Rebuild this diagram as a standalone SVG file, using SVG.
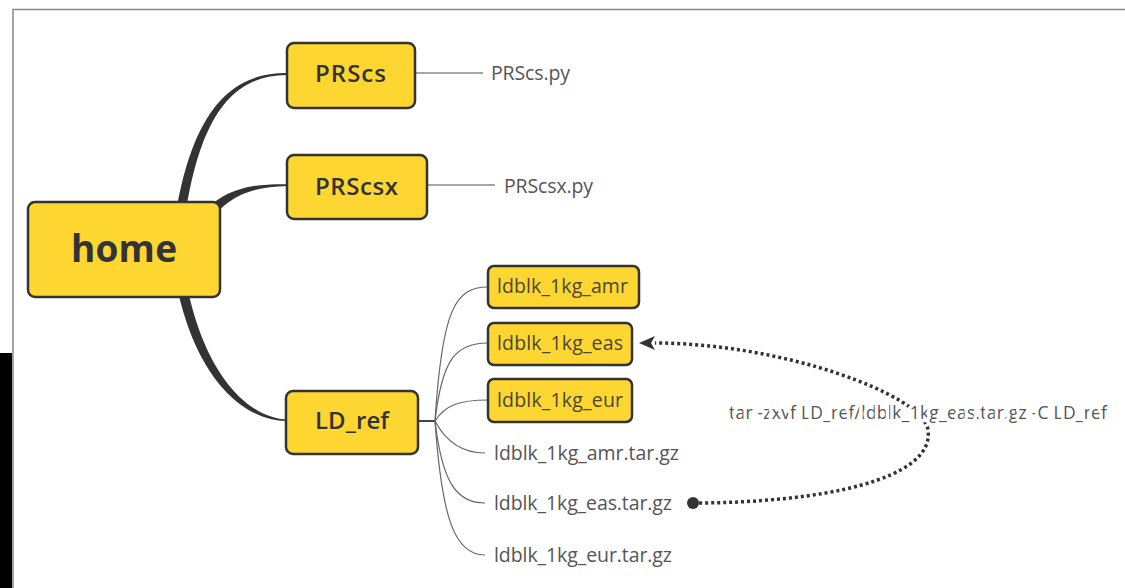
<svg xmlns="http://www.w3.org/2000/svg" width="1125" height="588" viewBox="0 0 1125 588">
<style>
.box{fill:#FDD631;stroke:#333;stroke-width:2.5}
.branch{fill:#333;stroke:none}
.thin{fill:none;stroke:#666;stroke-width:1.2}
.leafline{fill:none;stroke:#888;stroke-width:1.5}
.t{font-family:"Open Sans","Liberation Sans",sans-serif;fill:#333}
.main{font-size:37px;font-weight:700;text-anchor:middle}
.sub{font-size:24px;font-weight:600;text-anchor:middle}
.child{font-size:19.5px;font-weight:400;fill:#4a4734}
.leaf{font-size:19.5px;font-weight:400;fill:#555}
.lbl{font-size:17.5px;font-weight:400;fill:#555;paint-order:stroke;stroke:#fff;stroke-width:7px;stroke-linejoin:round}
.dotted{fill:none;stroke:#333;stroke-width:3.5;stroke-dasharray:3 3}
</style>
<defs>
<marker id="arr" markerUnits="userSpaceOnUse" viewBox="0 -10 20 20" markerWidth="20" markerHeight="20" refX="0" refY="0" orient="auto"><path d="M0,-7 L16,0 L0,7 L4,0 Z" fill="#333"/></marker>
<marker id="dot" markerUnits="userSpaceOnUse" viewBox="-7 -7 14 14" markerWidth="14" markerHeight="14" refX="0" refY="0"><circle r="6" fill="#333"/></marker>
</defs>
<rect x="0" y="0" width="1125" height="588" fill="#fff"/>
<rect x="0" y="353" width="12" height="235" fill="#000"/>
<path d="M13,588 L13,9.5 L1125,9.5" fill="none" stroke="#888" stroke-width="1.5"/>

<g id="connectors">
<path class="branch" d="M171,250 C185.5,113 229,72.5 287,73 L287,75 C231,75.5 194.5,117 181,250 Z"/>
<path class="branch" d="M191,233 C211,191 244,183.5 287,184.2 L287,186 C246,187 219,199 200,239 Z"/>
<path class="branch" d="M171,250 C187,383 249,422 287,421 L287,419.5 C251,418.5 197,377 181,250 Z"/>
<line class="leafline" x1="415" y1="73" x2="483" y2="73"/>
<line class="leafline" x1="427" y1="185" x2="495" y2="185"/>
<line x1="418" y1="421" x2="436" y2="421" stroke="#444" stroke-width="2"/>
<path class="thin" d="M435,421 C442,310 455,287 488,287"/>
<path class="thin" d="M435,421 C442,360 455,343 488,343"/>
<path class="thin" d="M435,421 C445,405 460,400 488,400"/>
<path class="thin" d="M435,421 C445,440 460,453 485,453"/>
<path class="thin" d="M435,421 C442,480 455,503 485,503"/>
<path class="thin" d="M435,421 C442,520 455,555 485,555"/>
<path class="dotted" d="M693,503 C820,503 935,480 928,430 C923,394 780,343 655,343" marker-start="url(#dot)" marker-end="url(#arr)"/>
<text class="t lbl" x="729" y="419" textLength="378">tar -zxvf LD_ref/ldblk_1kg_eas.tar.gz -C LD_ref</text>
</g>

<g id="home">
<rect class="box" x="28" y="202" width="192" height="95" rx="7"/>
<text class="t main" x="124" y="262" textLength="106">home</text>
</g>
<g id="PRScs">
<rect class="box" x="287" y="43" width="128" height="65" rx="7"/>
<text class="t sub" x="350.5" y="82" textLength="71">PRScs</text>
</g>
<g id="PRScs_py">
<text class="t leaf" x="491" y="80" textLength="79">PRScs.py</text>
</g>
<g id="PRScsx">
<rect class="box" x="287" y="155" width="140" height="64" rx="7"/>
<text class="t sub" x="356.5" y="195" textLength="83">PRScsx</text>
</g>
<g id="PRScsx_py">
<text class="t leaf" x="504" y="193" textLength="89">PRScsx.py</text>
</g>
<g id="LD_ref">
<rect class="box" x="286" y="391" width="132" height="63" rx="7"/>
<text class="t sub" x="352" y="429" textLength="74">LD_ref</text>
</g>
<g id="ldblk_1kg_amr">
<rect class="box" x="488" y="266" width="151" height="42" rx="6"/>
<text class="t child" x="497" y="293" textLength="131">ldblk_1kg_amr</text>
</g>
<g id="ldblk_1kg_eas">
<rect class="box" x="488" y="323" width="144" height="42" rx="6"/>
<text class="t child" x="497" y="350" textLength="126">ldblk_1kg_eas</text>
</g>
<g id="ldblk_1kg_eur">
<rect class="box" x="488" y="379" width="144" height="43" rx="6"/>
<text class="t child" x="497" y="407" textLength="126">ldblk_1kg_eur</text>
</g>
<g id="ldblk_1kg_amr_tar">
<text class="t leaf" x="494" y="460" textLength="185">ldblk_1kg_amr.tar.gz</text>
</g>
<g id="ldblk_1kg_eas_tar">
<text class="t leaf" x="494" y="510" textLength="178">ldblk_1kg_eas.tar.gz</text>
</g>
<g id="ldblk_1kg_eur_tar">
<text class="t leaf" x="494" y="562" textLength="178">ldblk_1kg_eur.tar.gz</text>
</g>
</svg>
